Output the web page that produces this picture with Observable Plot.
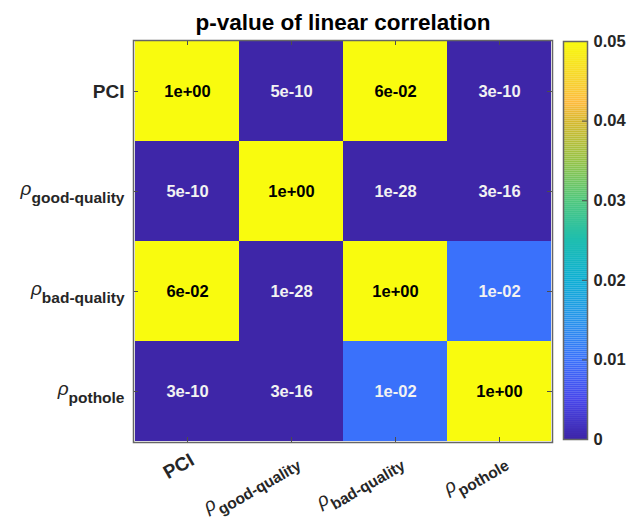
<!DOCTYPE html>
<html>
<head>
<meta charset="utf-8">
<script src="https://cdn.jsdelivr.net/npm/d3@7"></script>
<script src="https://cdn.jsdelivr.net/npm/@observablehq/plot@0.6"></script>
<style>
  html, body { margin: 0; padding: 0; background: #fff; }
  #chart { position: relative; width: 638px; height: 527px; }
  #chart > svg { position: absolute; left: 0; top: 0; }
</style>
</head>
<body>
<div id="chart"></div>
<script>
// Pairwise p-values of the linear correlation between the four quantities
const variables = ["PCI", "good-quality", "bad-quality", "pothole"];
const pvalues = [
  [1,     5e-10, 6e-2,  3e-10],
  [5e-10, 1,     1e-28, 3e-16],
  [6e-2,  1e-28, 1,     1e-2 ],
  [3e-10, 3e-16, 1e-2,  1    ]
];
const colorbarTicks = [0, 0.01, 0.02, 0.03, 0.04, 0.05];
const colorLimit = 0.05;
const title = "p-value of linear correlation";

// Parula-like colour ramp
const parulaStops = [
  "#3e26a8", "#4746eb", "#3a71fb", "#2894eb", "#0eafd4",
  "#1ebeaf", "#50c87d", "#96c346", "#d7b92d", "#fdbb3e",
  "#f7d22f", "#f9fb0e"
];
const parulaPos = [0, 0.1, 0.2, 0.3, 0.4, 0.5, 0.6, 0.7, 0.8, 0.845, 0.9, 1];
const parula = t => {
  t = Math.max(0, Math.min(1, t));
  let i = 1;
  while (i < parulaPos.length - 1 && t > parulaPos[i]) i++;
  const a = parulaPos[i - 1], b = parulaPos[i];
  return d3.interpolateRgb(parulaStops[i - 1], parulaStops[i])((t - a) / (b - a));
};
const colorScale = {type: "linear", domain: [0, colorLimit], interpolate: parula, clamp: true};

const cells = variables.flatMap((row, i) =>
  variables.map((col, j) => ({row, col, p: pvalues[i][j]}))
);

// MATLAB-style exponent formatting: 6e-02, 1e+00
const fmtExp = v => {
  const [m, e] = v.toExponential(0).split("e");
  return `${m}e${e[0]}${e.slice(1).padStart(2, "0")}`;
};
const tickLabel = v => v === "PCI" ? v : `ρ|${v}`;

const font = "'Liberation Sans', Arial, Helvetica, sans-serif";
const W = 638, H = 527;
const M = {top: 40, right: 86, bottom: 85, left: 133};
const frameW = W - M.left - M.right, frameH = H - M.top - M.bottom;
const tickLen = 5, edge = "#666", tickColor = "#4d4d4d", labelColor = "#262626";

const main = Plot.plot({
  width: W, height: H,
  marginTop: M.top, marginRight: M.right, marginBottom: M.bottom, marginLeft: M.left,
  style: {fontFamily: font, background: "transparent", overflow: "visible"},
  x: {domain: variables, padding: 0},
  y: {domain: variables, padding: 0},
  color: colorScale,
  marks: [
    Plot.cell(cells, {x: "col", y: "row", fill: "p", shapeRendering: "crispEdges"}),
    Plot.text(cells, {
      x: "col", y: "row", text: d => fmtExp(d.p),
      fill: d => d.p >= colorLimit ? "#000" : "#f2f2f2",
      fontSize: 16.5, fontWeight: "bold"
    }),
    Plot.tickX(variables, {x: d => d, insetBottom: frameH - tickLen, stroke: tickColor}),
    Plot.tickX(variables, {x: d => d, insetTop: frameH - tickLen, stroke: tickColor}),
    Plot.tickY(variables, {y: d => d, insetRight: frameW - tickLen, stroke: tickColor}),
    Plot.tickY(variables, {y: d => d, insetLeft: frameW - tickLen, stroke: tickColor}),
    Plot.frame({stroke: edge, strokeWidth: 1.5}),
    Plot.axisY({tickSize: 0, tickPadding: 9, tickFormat: tickLabel, fontSize: 19, fontWeight: "bold", fill: labelColor, label: null}),
    Plot.axisX({tickSize: 0, tickPadding: 16, dx: 5, tickRotate: -30, tickFormat: tickLabel, fontSize: 19, fontWeight: "bold", fill: labelColor, label: null}),
    Plot.text([title], {frameAnchor: "top", dy: -11, lineAnchor: "bottom", fontSize: 22.5, fontWeight: "bold", fill: "#000"})
  ]
});

// Turn "ρ|name" labels into ρ with a subscript
const ns = "http://www.w3.org/2000/svg";
main.querySelectorAll('g[aria-label="y-axis tick label"] text, g[aria-label="x-axis tick label"] text').forEach(t => {
  const s = t.textContent;
  const k = s.indexOf("|");
  if (k < 0) return;
  t.textContent = "";
  const rho = document.createElementNS(ns, "tspan");
  rho.textContent = s.slice(0, k);
  rho.setAttribute("font-style", "italic");
  rho.setAttribute("font-weight", "normal");
  rho.setAttribute("font-size", "19");
  rho.setAttribute("dy", "-3");
  const sub = document.createElementNS(ns, "tspan");
  sub.textContent = s.slice(k + 1);
  sub.setAttribute("font-size", "15.5");
  sub.setAttribute("font-weight", "bold");
  sub.setAttribute("dy", "8.5");
  t.append(rho, sub);
});

// Vertical colour bar
const steps = d3.range(0, colorLimit, colorLimit / 200);
const stepH = colorLimit / 200;
const colorbar = Plot.plot({
  width: W, height: H,
  marginTop: 41, marginBottom: H - 439, marginLeft: 563, marginRight: W - 587,
  style: {fontFamily: font, background: "transparent", overflow: "visible"},
  y: {domain: [0, colorLimit]},
  color: colorScale,
  marks: [
    Plot.rect(steps, {y1: d => d, y2: d => d + stepH * 1.02, fill: d => d + stepH / 2}),
    Plot.tickY(colorbarTicks, {y: d => d, insetLeft: (587 - 563) - tickLen, stroke: tickColor}),
    Plot.frame({stroke: edge, strokeWidth: 1.5}),
    Plot.axisY(colorbarTicks, {anchor: "right", tickSize: 0, tickPadding: 6, tickFormat: d => d === 0 ? "0" : d.toFixed(2), fontSize: 16.5, fontWeight: "bold", fill: labelColor, label: null})
  ]
});

document.getElementById("chart").append(main, colorbar);
</script>
</body>
</html>
